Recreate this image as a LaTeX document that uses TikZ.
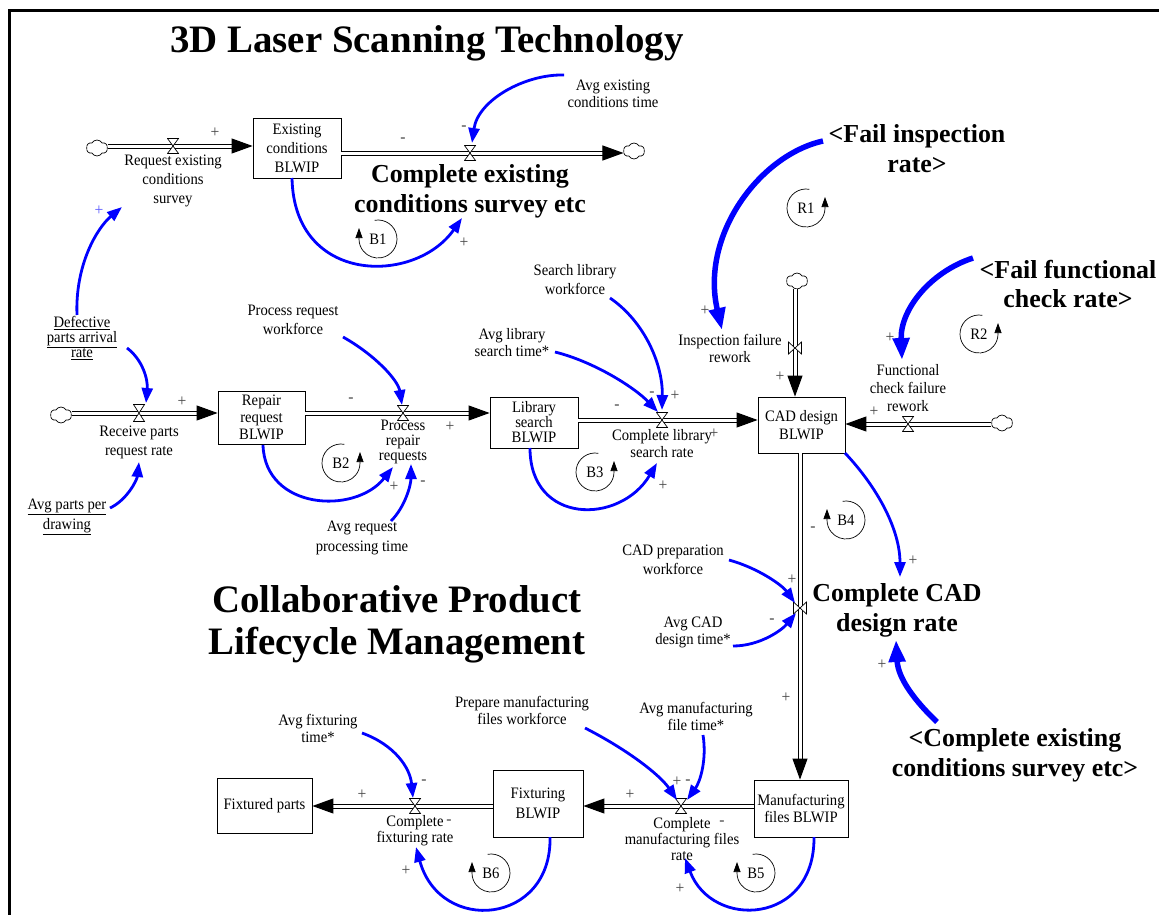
\documentclass[tikz,border=0pt]{standalone}
\usepackage{fontspec}
\setmainfont{Liberation Serif}
\newfontfamily\smfont{Liberation Serif}[FakeStretch=0.92]
\usetikzlibrary{arrows.meta,shapes.symbols}
\definecolor{lnkblue}{RGB}{0,0,255}
\definecolor{signgray}{RGB}{70,70,70}
\definecolor{signblue}{RGB}{90,90,255}
\newcommand\lblsz[1]{\smfont\fontsize{16}{#1}\selectfont}
\tikzset{
 lbl/.style={font=\lblsz{18}, align=center, inner sep=0pt},
 stock/.style={draw, line width=0.8bp, inner sep=0pt, align=center, font=\lblsz{18}},
 ttl/.style={font=\bfseries\fontsize{39}{42}\selectfont, align=center, inner sep=0pt},
 bigl/.style={font=\bfseries\fontsize{26}{30}\selectfont, align=center, inner sep=0pt},
 sgn/.style={font=\smfont\fontsize{17}{17}\selectfont, text=signgray, inner sep=0pt},
 pipe/.style={draw, double, double distance=3bp, line width=1bp},
 pipetip/.style={-{Triangle[length=21bp,width=15bp]}},
 valveh/.style={minimum width=12bp, minimum height=16bp, inner sep=0pt, path picture={
   \filldraw[fill=white, line width=0.7bp]
   ([shift={(0.5bp,-0.5bp)}]path picture bounding box.north west) --
   ([shift={(-0.5bp,-0.5bp)}]path picture bounding box.north east) --
   ([shift={(0.5bp,0.5bp)}]path picture bounding box.south west) --
   ([shift={(-0.5bp,0.5bp)}]path picture bounding box.south east) -- cycle;}},
 valvev/.style={minimum width=14bp, minimum height=13bp, inner sep=0pt, path picture={
   \filldraw[fill=white, line width=0.7bp]
   ([shift={(0.5bp,-0.5bp)}]path picture bounding box.north west) --
   ([shift={(0.5bp,0.5bp)}]path picture bounding box.south west) --
   ([shift={(-0.5bp,-0.5bp)}]path picture bounding box.north east) --
   ([shift={(-0.5bp,0.5bp)}]path picture bounding box.south east) -- cycle;}},
 cloudn/.style={cloud, draw, fill=white, cloud puffs=6, cloud puff arc=120, aspect=1.3,
   minimum width=21bp, minimum height=16bp, inner sep=0pt, line width=0.7bp},
 lnk/.style={draw=lnkblue, line width=2.8bp, -{Triangle[length=15bp,width=11bp]}},
 lnkthick/.style={draw=lnkblue, line width=5.5bp, -{Triangle[length=22bp,width=16bp]}},
 looparr/.style={draw, line width=0.7bp, -{Triangle[length=10bp,width=7bp]}},
}
\begin{document}
\begin{tikzpicture}[x=1bp,y=-1bp]
\useasboundingbox (0,0) rectangle (1159,915);
\draw[line width=3bp] (9,915) -- (9,10) -- (1159,10);

% titles
\node[ttl] (title1) at (427,43) {3D Laser Scanning Technology};
\node[ttl] (title2) at (397,624) {Collaborative Product\\Lifecycle Management};

% big labels
\node[bigl] (cexist) at (470,191) {Complete existing\\conditions survey etc};
\node[bigl] (failinsp) at (917,149) {<Fail inspection\\rate>};
\node[bigl] (failfunc) at (1068,284) {<Fail functional\\check rate>};
\node[bigl] (ccad) at (897,610) {Complete CAD\\design rate};
\node[bigl] (cexist2) at (1015,755) {<Complete existing\\conditions survey etc>};

% stocks
\node[stock, minimum width=88bp, minimum height=60bp, font=\lblsz{19}] (boxE) at (297,148) {Existing\\conditions\\BLWIP};
\node[stock, minimum width=87bp, minimum height=53bp, font=\lblsz{17}] (boxR) at (261.5,417.5) {Repair\\request\\BLWIP};
\node[stock, minimum width=88bp, minimum height=51bp, font=\lblsz{15}] (boxL) at (534,422.5) {Library\\search\\BLWIP};
\node[stock, minimum width=87bp, minimum height=56bp, font=\lblsz{18}] (boxC) at (801.5,425) {CAD design\\BLWIP};
\node[stock, minimum width=95bp, minimum height=55bp] (boxFP) at (264.5,805.5) {Fixtured parts};
\node[stock, minimum width=90bp, minimum height=67bp, font=\lblsz{20}] (boxFB) at (538,803.5) {Fixturing\\BLWIP};
\node[stock, minimum width=94bp, minimum height=57bp, font=\lblsz{18}] (boxMF) at (801,808.5) {Manufacturing\\files BLWIP};

% clouds
\node[cloudn] (cl1) at (97,148) {};
\node[cloudn] (cl2) at (634,151) {};
\node[cloudn] (cl3) at (61,415) {};
\node[cloudn] (cl4) at (797,281) {};
\node[cloudn] (cl5) at (1002,423) {};

% valve positions
\coordinate (v1p) at (173,146);
\coordinate (v2p) at (470,153);
\coordinate (v3p) at (139,413);
\coordinate (v4p) at (403,413);
\coordinate (v5p) at (662,420);
\coordinate (v6p) at (795,348);
\coordinate (v7p) at (908,424);
\coordinate (v8p) at (800,608);
\coordinate (v9p) at (681,806);
\coordinate (v10p) at (415,806);

% pipes
\draw[pipe,pipetip] (cl1.east |- v1p) -- (boxE.west |- v1p);
\draw[pipe,pipetip] (boxE.east |- v2p) -- (cl2.west |- v2p);
\draw[pipe,pipetip] (cl3.east |- v3p) -- (boxR.west |- v3p);
\draw[pipe,pipetip] (boxR.east |- v4p) -- (boxL.west |- v4p);
\draw[pipe,pipetip] (boxL.east |- v5p) -- (boxC.west |- v5p);
\draw[pipe,pipetip] (cl4.south -| v6p) -- (boxC.north -| v6p);
\draw[pipe,pipetip] (cl5.west |- v7p) -- (boxC.east |- v7p);
\draw[pipe,pipetip] (boxC.south -| v8p) -- (boxMF.north -| v8p);
\draw[pipe,pipetip] (boxMF.west |- v9p) -- (boxFB.east |- v9p);
\draw[pipe,pipetip] (boxFB.west |- v10p) -- (boxFP.east |- v10p);

% valves
\node[valveh] (v1) at (v1p) {};
\node[valveh] (v2) at (v2p) {};
\node[valveh, minimum height=18bp] (v3) at (v3p) {};
\node[valveh] (v4) at (v4p) {};
\node[valveh] (v5) at (v5p) {};
\node[valvev] (v6) at (v6p) {};
\node[valveh] (v7) at (v7p) {};
\node[valvev] (v8) at (v8p) {};
\node[valveh] (v9) at (v9p) {};
\node[valveh] (v10) at (v10p) {};

% small labels
\node[lbl, font=\lblsz{19}] (lreq) at (173,181) {Request existing\\conditions\\survey};
\node[lbl, font=\lblsz{17}] (lavgex) at (613,94) {Avg existing\\conditions time};
\node[lbl, font=\lblsz{15}] (ldef) at (82,338) {\underline{Defective}\\\underline{parts arrival}\\\underline{rate}};
\node[lbl, font=\lblsz{19}] (lprw) at (293,320) {Process request\\workforce};
\node[lbl, font=\lblsz{19}] (lslw) at (575,280) {Search library\\workforce};
\node[lbl, font=\lblsz{17}] (lalib) at (512,343) {Avg library\\search time*};
\node[lbl, font=\lblsz{17}] (linsp) at (730,348) {Inspection failure\\rework};
\node[lbl, font=\lblsz{18}] (lfunc) at (908,388) {Functional\\check failure\\rework};
\node[lbl, font=\lblsz{19}] (lrecv) at (139,442) {Receive parts\\request rate};
\node[lbl, font=\lblsz{15}] (lproc) at (403,442) {Process\\repair\\requests};
\node[lbl, font=\lblsz{17}] (lclib) at (662,444) {Complete library\\search rate};
\node[lbl, font=\lblsz{20}] (lapd) at (67,517) {\underline{Avg parts per}\\\underline{drawing}};
\node[lbl, font=\lblsz{20}] (lavgreq) at (362,538) {Avg request\\processing time};
\node[lbl, font=\lblsz{19}] (lcadwf) at (673,560) {CAD preparation\\workforce};
\node[lbl, font=\lblsz{17}] (lavgcad) at (693,632) {Avg CAD\\design time*};
\node[lbl, font=\lblsz{17}] (lavgmf) at (696,716) {Avg manufacturing\\file time*};
\node[lbl, font=\lblsz{17}] (lprepmf) at (522,710) {Prepare manufacturing\\files workforce};
\node[lbl, font=\lblsz{17}] (lavgfix) at (318,728) {Avg fixturing\\time*};
\node[lbl, font=\lblsz{16}] (lcfix) at (415,831) {Complete\\fixturing rate};
\node[lbl, font=\lblsz{16}] (lcmf) at (682,839) {Complete\\manufacturing files\\rate};

% loop markers
\node[lbl] (lB1) at (378,239) {B1};
\draw[looparr] (lB1.center) ++(100:19bp) arc[start angle=100, end angle=-180, radius=19bp] -- ++(0,-11);
\node[lbl] (lB2) at (341,463) {B2};
\draw[looparr] (lB2.center) ++(80:19bp) arc[start angle=80, end angle=360, radius=19bp] -- ++(0,-11);
\node[lbl] (lB3) at (595,472) {B3};
\draw[looparr] (lB3.center) ++(80:19bp) arc[start angle=80, end angle=360, radius=19bp] -- ++(0,-11);
\node[lbl] (lR1) at (806,208) {R1};
\draw[looparr] (lR1.center) ++(80:19bp) arc[start angle=80, end angle=360, radius=19bp] -- ++(0,-11);
\node[lbl] (lR2) at (979,334) {R2};
\draw[looparr] (lR2.center) ++(80:19bp) arc[start angle=80, end angle=360, radius=19bp] -- ++(0,-11);
\node[lbl] (lB4) at (846,520) {B4};
\draw[looparr] (lB4.center) ++(100:19bp) arc[start angle=100, end angle=-180, radius=19bp] -- ++(0,-11);
\node[lbl] (lB5) at (756,873) {B5};
\draw[looparr] (lB5.center) ++(100:19bp) arc[start angle=100, end angle=-180, radius=19bp] -- ++(0,-11);
\node[lbl] (lB6) at (491,873) {B6};
\draw[looparr] (lB6.center) ++(100:19bp) arc[start angle=100, end angle=-180, radius=19bp] -- ++(0,-11);

% link end points
\coordinate (a1s) at (564,75);   \coordinate (a1e) at (472,143);
\coordinate (a2s) at (292,178);  \coordinate (a2e) at (462,218);
\coordinate (a3s) at (77,315);   \coordinate (a3e) at (122,207);
\coordinate (a4s) at (127,348);  \coordinate (a4e) at (146,403);
\coordinate (a5s) at (110,508);  \coordinate (a5e) at (139,462);
\coordinate (a6s) at (343,337);  \coordinate (a6e) at (402,405);
\coordinate (a7s) at (263,445);  \coordinate (a7e) at (393,467);
\coordinate (a8s) at (391,521);  \coordinate (a8e) at (411,464);
\coordinate (a9s) at (610,298);  \coordinate (a9e) at (662,410);
\coordinate (a10s) at (555,352); \coordinate (a10e) at (658,412);
\coordinate (a11s) at (530,448); \coordinate (a11e) at (657,463);
\coordinate (a12s) at (823,141); \coordinate (a12e) at (722,330);
\coordinate (a13s) at (973,258); \coordinate (a13e) at (902,360);
\coordinate (a14s) at (845,453); \coordinate (a14e) at (900,577);
\coordinate (a15s) at (729,560); \coordinate (a15e) at (795,603);
\coordinate (a16s) at (733,646); \coordinate (a16e) at (796,613);
\coordinate (a17s) at (937,722); \coordinate (a17e) at (896,640);
\coordinate (a18s) at (585,728); \coordinate (a18e) at (677,800);
\coordinate (a19s) at (703,735); \coordinate (a19e) at (687,800);
\coordinate (a20s) at (814,837); \coordinate (a20e) at (685,858);
\coordinate (a21s) at (362,733); \coordinate (a21e) at (413,798);
\coordinate (a22s) at (550,837); \coordinate (a22e) at (416,847);

% links
\draw[lnk] (a1s) .. controls (525,74) and (478,100) .. (a1e);
\draw[lnk] (a2s) .. controls (294,285) and (415,285) .. (a2e);
\draw[lnk] (a3s) .. controls (75,265) and (97,228) .. (a3e);
\draw[lnk] (a4s) .. controls (143,360) and (148,380) .. (a4e);
\draw[lnk] (a5s) .. controls (127,500) and (137,480) .. (a5e);
\draw[lnk] (a6s) .. controls (375,355) and (398,380) .. (a6e);
\draw[lnk] (a7s) .. controls (265,510) and (355,515) .. (a7e);
\draw[lnk] (a8s) .. controls (405,507) and (411,485) .. (a8e);
\draw[lnk] (a9s) .. controls (645,322) and (663,365) .. (a9e);
\draw[lnk] (a10s) .. controls (595,362) and (635,388) .. (a10e);
\draw[lnk] (a11s) .. controls (530,525) and (620,525) .. (a11e);
\draw[lnkthick] (a12s) .. controls (760,155) and (700,235) .. (a12e);
\draw[lnkthick] (a13s) .. controls (930,272) and (900,310) .. (a13e);
\draw[lnk] (a14s) .. controls (878,488) and (900,530) .. (a14e);
\draw[lnk] (a15s) .. controls (758,568) and (782,585) .. (a15e);
\draw[lnk] (a16s) .. controls (760,646) and (782,630) .. (a16e);
\draw[lnkthick] (a17s) .. controls (914,700) and (898,678) .. (a17e);
\draw[lnk] (a18s) .. controls (628,750) and (660,775) .. (a18e);
\draw[lnk] (a19s) .. controls (707,760) and (700,782) .. (a19e);
\draw[lnk] (a20s) .. controls (815,925) and (712,930) .. (a20e);
\draw[lnk] (a21s) .. controls (395,745) and (410,768) .. (a21e);
\draw[lnk] (a22s) .. controls (552,925) and (440,935) .. (a22e);

% polarity signs
\node[sgn] (s1) at (215,133) {+};
\node[sgn] (s2) at (403,140) {-};
\node[sgn] (s3) at (464,128) {-};
\node[sgn] (s4) at (464,243) {+};
\node[sgn, text=signblue] (s5) at (99,211) {+};
\node[sgn] (s6) at (182,402) {+};
\node[sgn] (s7) at (351,400) {-};
\node[sgn] (s8) at (450,427) {+};
\node[sgn] (s9) at (394,487) {+};
\node[sgn] (s10) at (423,483) {-};
\node[sgn] (s11) at (617,407) {-};
\node[sgn] (s12) at (652,394) {-};
\node[sgn] (s13) at (675,396) {+};
\node[sgn] (s14) at (714,434) {+};
\node[sgn] (s15) at (663,486) {+};
\node[sgn] (s16) at (705,311) {+};
\node[sgn] (s17) at (780,377) {+};
\node[sgn] (s18) at (890,338) {+};
\node[sgn] (s19) at (874,412) {+};
\node[sgn] (s20) at (813,529) {-};
\node[sgn] (s21) at (913,561) {+};
\node[sgn] (s22) at (792,580) {+};
\node[sgn] (s23) at (772,621) {-};
\node[sgn] (s24) at (882,665) {+};
\node[sgn] (s25) at (786,698) {+};
\node[sgn] (s26) at (362,795) {+};
\node[sgn] (s27) at (424,782) {-};
\node[sgn] (s28) at (449,822) {-};
\node[sgn] (s29) at (406,871) {+};
\node[sgn] (s30) at (630,795) {+};
\node[sgn] (s31) at (677,782) {+};
\node[sgn] (s32) at (688,782) {-};
\node[sgn] (s33) at (722,823) {-};
\node[sgn] (s34) at (680,889) {+};
\end{tikzpicture}
\end{document}
